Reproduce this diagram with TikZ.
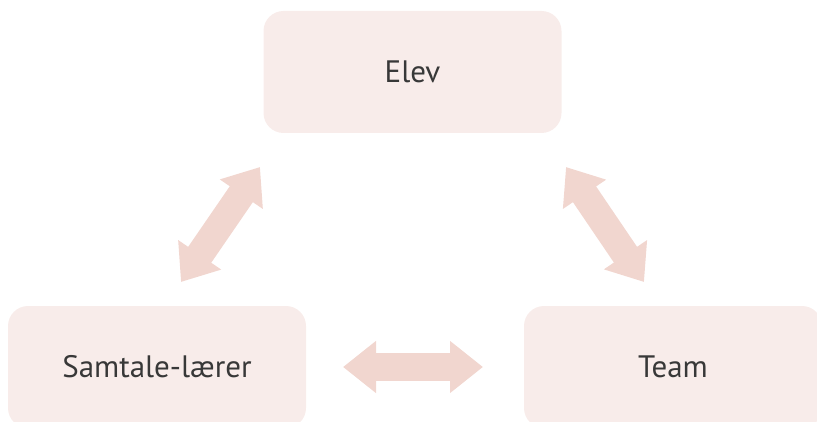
\documentclass[tikz,border=0pt]{standalone}
\usepackage{fontspec}
\setmainfont{PT Sans}
\usetikzlibrary{arrows.meta}
\definecolor{boxfill}{HTML}{F8ECEA}
\definecolor{arrowfill}{HTML}{F1D6CF}
\definecolor{textgray}{HTML}{383838}
\tikzset{
  talebox/.style={fill=boxfill, rounded corners=20pt, minimum width=298pt,
    minimum height=122pt, text=textgray, font=\fontsize{31}{36}\selectfont},
  biarrow/.style={arrowfill, line width=28pt,
    {Triangle[width=50pt,length=33pt]}-{Triangle[width=50pt,length=33pt]}},
}
\begin{document}
\begin{tikzpicture}[x=1pt, y=-1pt]
  \useasboundingbox (0,0) rectangle (817,422);
  \clip (0,0) rectangle (817,422);
  % the three parties
  \node[talebox] (elev) at (412.5,72) {Elev};
  \node[talebox] (samtale) at (157,367) {Samtale-lærer};
  \node[talebox] (team) at (673,367) {Team};
  % ends of the two-way arrows
  \coordinate (el-a) at (181,282);
  \coordinate (el-b) at (260,167);
  \coordinate (et-a) at (566,167);
  \coordinate (et-b) at (644,282);
  \coordinate (st-a) at (343,367);
  \coordinate (st-b) at (483,367);
  \draw[biarrow] (el-a) -- (el-b);
  \draw[biarrow] (et-a) -- (et-b);
  \draw[biarrow] (st-a) -- (st-b);
\end{tikzpicture}
\end{document}
